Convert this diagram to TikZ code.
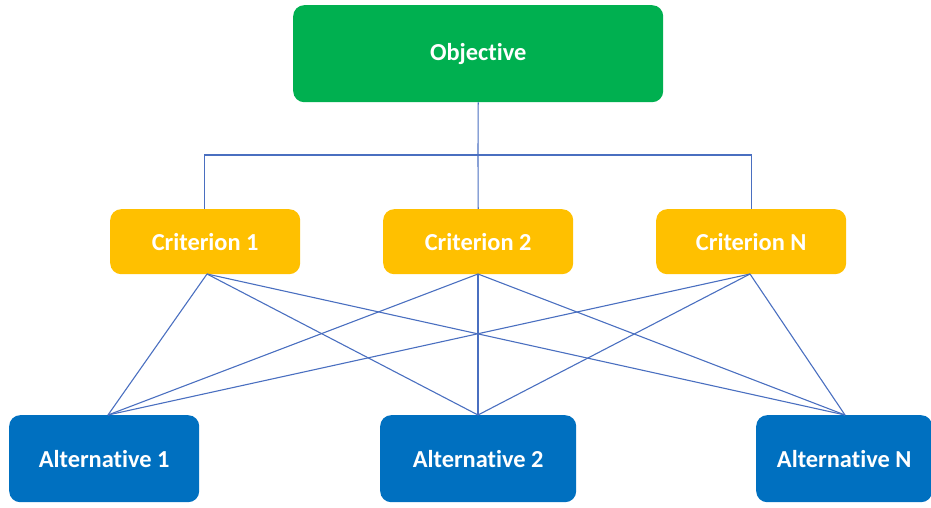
\documentclass[tikz,border=0pt]{standalone}
\usepackage{fontspec}
\setmainfont{Carlito}[Ligatures={NoCommon}]
\definecolor{objgreen}{HTML}{00B050}
\definecolor{critorange}{HTML}{FFC000}
\definecolor{altblue}{HTML}{0070C0}
\definecolor{linkblue}{HTML}{4A6FC0}
\begin{document}
\begin{tikzpicture}[x=1bp,y=-1bp,
  box/.style={rounded corners=11bp, inner sep=0pt, text=white, font=\bfseries\fontsize{24.5}{28}\selectfont, anchor=north west},
  objbox/.style={box, fill=objgreen, minimum width=370bp, minimum height=97bp},
  critbox/.style={box, fill=critorange, minimum width=190bp, minimum height=65bp},
  altbox/.style={box, fill=altblue, minimum width=190bp, minimum height=87bp},
  link/.style={draw=linkblue, line width=1.1bp}]
\useasboundingbox (0,0) rectangle (931,508);
\node[objbox] (obj) at (293,5) {Objective};
\node[critbox] (c1) at (110,209) {Criterion 1};
\node[critbox] (c2) at (383,209) {Criterion 2};
\node[critbox] (cn) at (656,209) {Criterion N};
\node[altbox] (a1) at (9,415) {Alternative 1};
\node[altbox, minimum width=196bp] (a2) at (380,415) {Alternative 2};
\node[altbox, minimum width=176bp] (an) at (756,415) {Alternative N};
% top tree
\coordinate (jn) at (478,155);
\draw[link] (obj.south) -- (jn);
\draw[link] (c1.north) ++(-1,0) coordinate (c1t) -- (c1t |- jn) -- (cn.north |- jn) -- (cn.north);
\draw[link] (jn) -- (c2.north);
% bottom links
\coordinate (c1b) at (207,274);
\coordinate (c2b) at (478,274);
\coordinate (cnb) at (750,274);
\coordinate (a1t) at (108,415);
\coordinate (a2t) at (478,415);
\coordinate (ant) at (845,415);
\foreach \c in {c1b,c2b,cnb}{
  \foreach \a in {a1t,a2t,ant}{
    \draw[link] (\c) -- (\a);
  }
}
\end{tikzpicture}
\end{document}
